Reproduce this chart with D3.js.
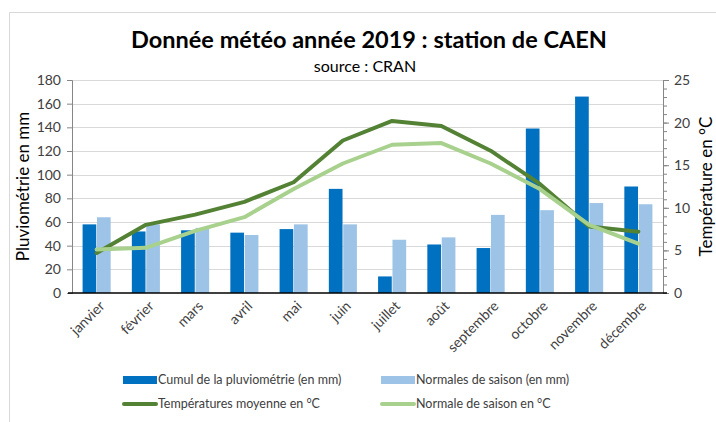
<!DOCTYPE html>
<html lang="fr">
<head>
<meta charset="UTF-8">
<title>Donnée météo 2019 CAEN</title>
<script src="https://d3js.org/d3.v7.min.js"></script>
<style>
  body { margin: 0; background: #fff; }
  text { font-family: Lato, "Open Sans", sans-serif; fill: #404040; }
</style>
</head>
<body>
<div id="chart"></div>
<script>
// data
var months = ["janvier", "février", "mars", "avril", "mai", "juin", "juillet", "août", "septembre", "octobre", "novembre", "décembre"];
var pluie = [58, 52, 53, 51, 54, 88, 14, 41, 38, 139, 166, 90];
var pluieNormale = [64, 58, 55, 49, 58, 58, 45, 47, 66, 70, 76, 75];
var temp = [4.7, 8.0, 9.2, 10.7, 13.0, 17.9, 20.2, 19.6, 16.7, 12.8, 7.8, 7.2];
var tempNormale = [5.1, 5.3, 7.3, 8.9, 12.2, 15.2, 17.4, 17.6, 15.2, 12.2, 8.0, 5.8];
var leftTicks = [0, 20, 40, 60, 80, 100, 120, 140, 160, 180];
var rightTicks = [0, 5, 10, 15, 20, 25];

var W = 716, H = 422;
var margin = {top: 80, right: 53, bottom: 129, left: 72};
var width = W - margin.left - margin.right,
    height = H - margin.top - margin.bottom;

var svg = d3.select("#chart").append("svg")
  .attr("width", W).attr("height", H);

// chart frame
svg.append("path")
  .attr("d", "M9.5," + (H + 2) + "V12.5H" + (W + 2))
  .attr("fill", "none").attr("stroke", "#d9d9d9");

// titles
svg.append("text")
  .attr("x", 369).attr("y", 48)
  .attr("text-anchor", "middle")
  .style("font-size", "23.5px").style("font-weight", "bold").style("fill", "#000")
  .text("Donnée météo année 2019 : station de CAEN");
svg.append("text")
  .attr("x", 365).attr("y", 72)
  .attr("text-anchor", "middle")
  .style("font-size", "16px").style("fill", "#000")
  .text("source : CRAN");

var g = svg.append("g")
  .attr("transform", "translate(" + margin.left + "," + margin.top + ")");

// scales
var x0 = d3.scaleBand().domain(months).range([0, width]).paddingInner(0.43).paddingOuter(0.215);
var x1 = d3.scaleBand().domain(["pluie", "normale"]).range([0, x0.bandwidth()]).paddingInner(0.05);
var yL = d3.scaleLinear().domain([0, 180]).range([height, 0]);
var yR = d3.scaleLinear().domain([0, 25]).range([height, 0]);

// gridlines
g.selectAll(".grid").data(leftTicks.slice(1)).enter().append("line")
  .attr("x1", 0).attr("x2", width)
  .attr("y1", function(d) { return Math.round(yL(d)) + 0.5; })
  .attr("y2", function(d) { return Math.round(yL(d)) + 0.5; })
  .attr("stroke", "#d9d9d9");

// bars
var groups = g.selectAll(".mois").data(months).enter().append("g")
  .attr("transform", function(d) { return "translate(" + x0(d) + ",0)"; });
groups.append("rect")
  .attr("x", x1("pluie")).attr("width", x1.bandwidth())
  .attr("y", function(d, i) { return yL(pluie[i]); })
  .attr("height", function(d, i) { return height - yL(pluie[i]); })
  .attr("fill", "#0070c0");
groups.append("rect")
  .attr("x", x1("normale")).attr("width", x1.bandwidth())
  .attr("y", function(d, i) { return yL(pluieNormale[i]); })
  .attr("height", function(d, i) { return height - yL(pluieNormale[i]); })
  .attr("fill", "#9dc3e6");

// lines
var cx = function(i) { return x0(months[i]) + x0.bandwidth() / 2; };
var line = d3.line().x(function(d, i) { return cx(i); }).y(function(d) { return yR(d); });
g.append("path").datum(temp).attr("d", line)
  .attr("fill", "none").attr("stroke", "#548235").attr("stroke-width", 4)
  .attr("stroke-linecap", "round").attr("stroke-linejoin", "round");
g.append("path").datum(tempNormale).attr("d", line)
  .attr("fill", "none").attr("stroke", "#a9d18e").attr("stroke-width", 4)
  .attr("stroke-linecap", "round").attr("stroke-linejoin", "round");

// left axis
var axL = g.append("g")
  .call(d3.axisLeft(yL).tickValues(leftTicks).tickSize(5).tickPadding(6));
axL.select(".domain").attr("stroke", "#868686");
axL.selectAll(".tick line").attr("stroke", "#868686");
axL.selectAll("text").style("font-size", "14px").style("font-family", "Lato, sans-serif").style("fill", "#404040");

// right axis: minor then major ticks
g.append("g").attr("transform", "translate(" + width + ",0)")
  .call(d3.axisRight(yR).ticks(25).tickSize(4).tickFormat(""))
  .call(function(s) { s.select(".domain").remove(); s.selectAll("line").attr("stroke", "#868686"); });
var axR = g.append("g").attr("transform", "translate(" + width + ",0)")
  .call(d3.axisRight(yR).tickValues(rightTicks).tickSize(6).tickPadding(5));
axR.select(".domain").attr("stroke", "#868686");
axR.selectAll(".tick line").attr("stroke", "#868686");
axR.selectAll("text").style("font-size", "14px").style("font-family", "Lato, sans-serif").style("fill", "#404040");

// bottom axis
var axB = g.append("g").attr("transform", "translate(0," + height + ")")
  .call(d3.axisBottom(x0).tickSize(0).tickPadding(0));
axB.select(".domain").attr("stroke", "#000").attr("stroke-width", 1.5)
  .attr("d", "M-4,0H" + (width + 4));
axB.selectAll("text")
  .attr("text-anchor", "end")
  .attr("transform", "translate(2,7) rotate(-45)")
  .attr("dy", "0.7em")
  .style("font-size", "14px").style("font-family", "Lato, sans-serif").style("fill", "#404040");

// axis titles
svg.append("text")
  .attr("transform", "translate(29," + (margin.top + height / 2) + ") rotate(-90)")
  .attr("text-anchor", "middle")
  .style("font-size", "17px").style("fill", "#000")
  .text("Pluviométrie en mm");
svg.append("text")
  .attr("transform", "translate(712," + (margin.top + height / 2) + ") rotate(-90)")
  .attr("text-anchor", "middle")
  .style("font-size", "17px").style("fill", "#000")
  .text("Température en °C");

// legend
var legend = [
  {label: "Cumul de la pluviométrie (en mm)", color: "#0070c0", type: "bar", x: 123, y: 380},
  {label: "Normales de saison (en mm)", color: "#9dc3e6", type: "bar", x: 381, y: 380},
  {label: "Températures moyenne en °C", color: "#548235", type: "line", x: 123, y: 404},
  {label: "Normale de saison en °C", color: "#a9d18e", type: "line", x: 381, y: 404}
];
var lg = svg.selectAll(".leg").data(legend).enter().append("g")
  .attr("transform", function(d) { return "translate(" + d.x + "," + d.y + ")"; });
lg.filter(function(d) { return d.type === "bar"; }).append("rect")
  .attr("x", 0).attr("y", -4).attr("width", 34).attr("height", 8)
  .attr("fill", function(d) { return d.color; });
lg.filter(function(d) { return d.type === "line"; }).append("line")
  .attr("x1", 1).attr("x2", 33).attr("y1", 0).attr("y2", 0)
  .attr("stroke", function(d) { return d.color; }).attr("stroke-width", 4)
  .attr("stroke-linecap", "round");
lg.append("text")
  .attr("x", 35).attr("y", 0).attr("dy", "0.35em")
  .style("font-size", "12.5px").style("fill", "#404040")
  .text(function(d) { return d.label; });
</script>
</body>
</html>
